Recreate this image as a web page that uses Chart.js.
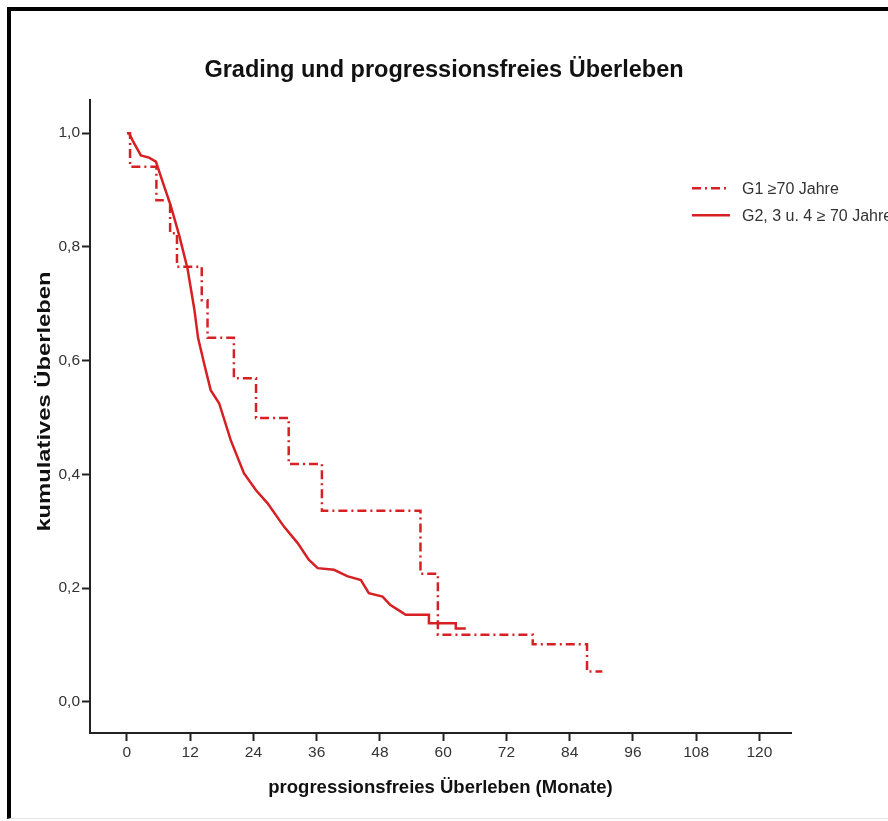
<!DOCTYPE html>
<html>
<head>
<meta charset="utf-8">
<script src="https://cdn.jsdelivr.net/npm/chart.js@4.4.1/dist/chart.umd.min.js"></script>
<style>
  html, body { margin: 0; padding: 0; background: #fff; }
  #frame {
    position: absolute; left: 7px; top: 7px; width: 881px; height: 807px;
    border-top: 4px solid #000; border-left: 4px solid #000;
    border-bottom: 1px solid #e4e4e4; box-sizing: content-box;
  }
  #wrap { position: absolute; left: 0; top: 0; width: 888px; height: 821px; }
</style>
</head>
<body>
<div id="frame"></div>
<div id="wrap"><canvas id="kmChart" width="888" height="821"></canvas></div>
<script>
// Monate / kumulatives Überleben, G1 (Kaplan-Meier Stufen)
const g1Months   = [0, 0.6, 5.6, 8.2, 9.5, 14.2, 15.3, 20.3, 24.5, 30.7, 37.0, 55.7, 59.0, 77.0, 87.3, 90.2];
const g1Survival = [1.0, 0.941, 0.882, 0.824, 0.765, 0.706, 0.640, 0.569, 0.499, 0.418, 0.336, 0.225, 0.118, 0.101, 0.053, 0.053];

// G2, 3 u. 4
const g2Months   = [0.4, 1.2, 2.65, 4.2, 5.5, 6.8, 8.3, 9.9, 11.5, 12.8, 13.5, 14.65, 15.9, 17.5, 19.7, 22.2, 24.5, 26.7, 29.8, 32.4, 34.5, 36.2, 39.3, 41.8, 44.4, 45.9, 48.5, 50.0, 51.9, 52.9, 57.3, 57.3, 62.4, 62.4, 64.3];
const g2Survival = [1.0, 0.985, 0.961, 0.957, 0.95, 0.914, 0.873, 0.821, 0.762, 0.69, 0.64, 0.595, 0.548, 0.525, 0.46, 0.402, 0.372, 0.349, 0.308, 0.279, 0.25, 0.235, 0.232, 0.221, 0.214, 0.191, 0.185, 0.17, 0.159, 0.153, 0.153, 0.138, 0.138, 0.129, 0.129];

const xTicks = [0, 12, 24, 36, 48, 60, 72, 84, 96, 108, 120];
const yTicks = [0.0, 0.2, 0.4, 0.6, 0.8, 1.0];
const seriesNames = ["G1 \u226570 Jahre", "G2, 3 u. 4 \u2265 70 Jahre"];
const yTitle = "kumulatives \u00dcberleben";

const red = "rgb(214, 32, 36)";
const fontFam = "'Liberation Sans', Arial, sans-serif";

function toPoints(xs, ys) {
  return xs.map(function (x, i) { return { x: x, y: ys[i] }; });
}

// Legende oben rechts im Diagramm
const kmLegend = {
  id: "kmLegend",
  afterDraw: function (chart) {
    const ctx = chart.ctx;
    const a = chart.chartArea;
    const x0 = a.right - 99;
    const y0 = a.top + 88;
    ctx.save();
    ctx.font = "16px " + fontFam;
    ctx.textBaseline = "middle";
    chart.data.datasets.forEach(function (ds, i) {
      const y = y0 + i * 27;
      ctx.strokeStyle = ds.borderColor;
      ctx.lineWidth = ds.borderWidth;
      ctx.setLineDash(ds.borderDash || []);
      ctx.beginPath();
      ctx.moveTo(x0, y);
      ctx.lineTo(x0 + 38, y);
      ctx.stroke();
      ctx.setLineDash([]);
      ctx.fillStyle = "#333";
      ctx.fillText(seriesNames[i], x0 + 50, y + 1);
    });
    ctx.restore();
  }
};

// senkrechte Achsenbeschriftung, etwas in die Länge gezogen
const yAxisTitle = {
  id: "yAxisTitle",
  afterDraw: function (chart) {
    const ctx = chart.ctx;
    const a = chart.chartArea;
    ctx.save();
    ctx.translate(45, (a.top + a.bottom) / 2 - 15);
    ctx.rotate(-Math.PI / 2);
    ctx.scale(1.25, 1);
    ctx.font = "bold 19px " + fontFam;
    ctx.fillStyle = "#111";
    ctx.textAlign = "center";
    ctx.textBaseline = "middle";
    ctx.fillText(yTitle, 0, 0);
    ctx.restore();
  }
};

const chartArea = document.getElementById("kmChart").getContext("2d");
const kmChart = new Chart(chartArea, {
  type: "line",
  data: {
    datasets: [
      {
        label: seriesNames[0],
        data: toPoints(g1Months, g1Survival),
        borderColor: red,
        borderWidth: 2.5,
        borderDash: [9, 4, 2, 4],
        stepped: true,
        pointRadius: 0,
        fill: false
      },
      {
        label: seriesNames[1],
        data: toPoints(g2Months, g2Survival),
        borderColor: red,
        borderWidth: 2.5,
        tension: 0,
        pointRadius: 0,
        fill: false
      }
    ]
  },
  options: {
    responsive: false,
    animation: false,
    layout: { padding: 0 },
    plugins: {
      legend: { display: false },
      tooltip: { enabled: false },
      title: {
        display: true,
        text: "Grading und progressionsfreies \u00dcberleben",
        color: "#111",
        font: { family: fontFam, size: 23.5, weight: "bold" },
        padding: { top: 56, bottom: 16 }
      }
    },
    scales: {
      x: {
        type: "linear",
        min: -7,
        max: 126,
        afterBuildTicks: function (s) { s.ticks = xTicks.map(function (v) { return { value: v }; }); },
        afterFit: function (s) { s.height = 88; },
        grid: { drawOnChartArea: false, drawTicks: true, tickLength: 8, tickColor: "#222", tickWidth: 2 },
        border: { display: true, color: "#222", width: 2 },
        ticks: { color: "#333", padding: 2, maxRotation: 0, font: { family: fontFam, size: 15.5 } },
        title: {
          display: true,
          text: "progressionsfreies \u00dcberleben (Monate)",
          color: "#111",
          font: { family: fontFam, size: 18.5, weight: "bold" },
          padding: { top: 4, bottom: 22 }
        }
      },
      y: {
        type: "linear",
        min: -0.055,
        max: 1.058,
        afterBuildTicks: function (s) { s.ticks = yTicks.map(function (v) { return { value: v }; }); },
        afterFit: function (s) { s.width = 90; },
        grid: { drawOnChartArea: false, drawTicks: true, tickLength: 8, tickColor: "#222", tickWidth: 2 },
        border: { display: true, color: "#222", width: 2 },
        ticks: {
          color: "#333",
          padding: 2,
          font: { family: fontFam, size: 15.5 },
          callback: function (v) { return v.toFixed(1).replace(".", ","); }
        }
      },
      // leerer Rand rechts neben der Zeitachse
      yRight: {
        position: "right",
        display: true,
        grid: { display: false },
        border: { display: false },
        ticks: { display: false },
        afterFit: function (s) { s.width = 97; }
      }
    }
  },
  plugins: [kmLegend, yAxisTitle]
});
</script>
</body>
</html>
